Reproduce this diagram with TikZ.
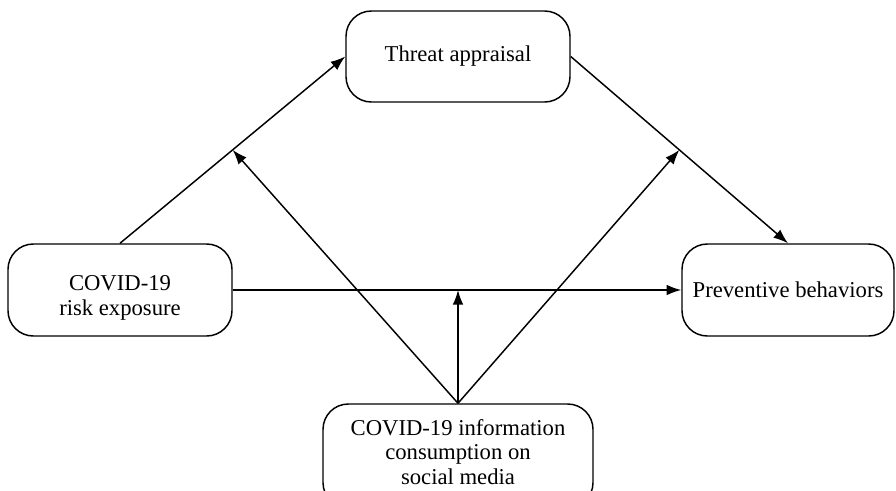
\documentclass[tikz,border=0pt]{standalone}
\usepackage{fontspec}
\setmainfont{Liberation Serif}
\usetikzlibrary{calc,arrows.meta}
\begin{document}
\begin{tikzpicture}[x=0.75pt,y=-0.75pt,
  box/.style={draw,line width=1.1pt,rounded corners=19pt,align=center,
    font=\fontsize{17}{18.5}\selectfont,inner sep=0pt},
  txt/.style={align=center,font=\fontsize{17}{18.5}\selectfont,inner sep=0pt},
  conn/.style={line width=1.1pt,-{Latex[length=11pt,width=8pt]}}]
\useasboundingbox (0,0) rectangle (896,490);
\node[box,minimum width=224*0.75pt,minimum height=91*0.75pt] (threat) at (458,56.5) {Threat appraisal};
\node[box,minimum width=224*0.75pt,minimum height=92*0.75pt] (risk) at (120,290) {};
\node[txt] (risktxt) at ([yshift=-6pt]risk.center) {COVID-19\\risk exposure};
\node[box,minimum width=212*0.75pt,minimum height=92*0.75pt] (prev) at (788,290) {Preventive behaviors};
\node[box,minimum width=270*0.75pt,minimum height=104*0.75pt] (info) at (458,456) {};
\node[txt] (infotxt) at ([yshift=3pt]info.center) {COVID-19 information\\consumption on\\social media};
\coordinate (m1) at ($(risk.north)!0.5!(threat.west)$);
\coordinate (m2) at ($(threat.east)!0.5!(prev.north)$);
\coordinate (m3) at (info.north |- prev.west);
\draw[conn] (risk.north) -- (threat.west);
\draw[conn] (threat.east) -- (prev.north);
\draw[conn] (risk.east) -- (prev.west);
\draw[conn] (info.north) -- (m1);
\draw[conn] (info.north) -- (m2);
\draw[conn] (info.north) -- (m3);
\end{tikzpicture}
\end{document}
